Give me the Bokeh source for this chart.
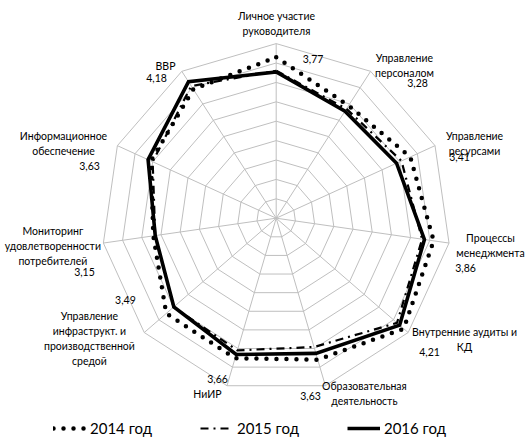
import numpy as np
from bokeh.plotting import figure
from bokeh.models import Range1d, Legend, LegendItem
from bokeh.embed import file_html
from bokeh.resources import INLINE
from bokeh.core.properties import value

# ---------------- data ----------------
categories = [
    "Личное участие\nруководителя",
    "Управление\nперсоналом",
    "Управление\nресурсами",
    "Процессы\nменеджмента",
    "Внутренние аудиты и\nКД",
    "Образовательная\nдеятельность",
    "НиИР",
    "Управление\nинфраструкт. и\nпроизводственной\nсредой",
    "Мониторинг\nудовлетворенности\nпотребителей",
    "Информационное\nобеспечение",
    "ВВР",
]
values_2014 = [4.15, 3.45, 3.80, 4.10, 4.35, 3.80, 3.76, 3.75, 3.20, 3.55, 3.95]
values_2015 = [3.80, 3.35, 3.55, 3.80, 4.12, 3.46, 3.55, 3.50, 3.15, 3.50, 4.05]
values_2016 = [3.77, 3.28, 3.41, 3.86, 4.21, 3.63, 3.66, 3.49, 3.15, 3.63, 4.18]
value_labels = ["3,77", "3,28", "3,41", "3,86", "4,21", "3,63", "3,66", "3,49", "3,15", "3,63", "4,18"]
series_names = ["2014 год", "2015 год", "2016 год"]
ring_values = [0.5, 1.0, 1.5, 2.0, 2.5, 3.0, 3.5, 4.0, 4.5]
axis_max = 4.5

# ---------------- layout / style ----------------
W, H = 532, 439
SCALE = 38.8            # px per value unit
CX, CY = 275.7, 217.7   # centre of the web in figure pixels

# label placement: pixel offsets from the outer end of each spoke (x right, y down)
cat_offsets = [(0.3, -20.6), (33.9, -5.8), (39.5, -1.7), (41.5, 2.5), (56.4, 6.5),
               (39.0, 7.3), (-19.5, 7.8), (-54.8, 5.5), (-50.5, 2.5), (-53.9, -1.7), (-16.3, -5.8)]
val_offsets = [(36.8, 14.9), (46.9, 11.2), (24.5, 11.8), (16.5, 24.5), (21.4, 19.0),
               (-14.9, 9.8), (-9.5, -7.2), (-18.8, -33.0), (-18.9, 29.2), (-27.9, 20.5), (-25.3, 6.5)]

FONT = "Lato"
GRID = "#BFBFBF"
TXT = "#000000"

n = len(categories)
ang = np.arange(n) * 2 * np.pi / n   # clockwise from top
sx, sy = np.sin(ang), np.cos(ang)

p = figure(width=W, height=H, output_backend="svg", toolbar_location=None,
           x_range=Range1d(-CX / SCALE, (W - CX) / SCALE),
           y_range=Range1d(-(H - CY) / SCALE, CY / SCALE),
           min_border=0, outline_line_color=None)
p.axis.visible = False
p.grid.visible = False
p.min_border_left = p.min_border_right = p.min_border_top = p.min_border_bottom = 0

# rings
ring_xs = [list(np.append(r * sx, r * sx[0])) for r in ring_values]
ring_ys = [list(np.append(r * sy, r * sy[0])) for r in ring_values]
p.multi_line(ring_xs, ring_ys, line_color=GRID, line_width=1)
# spokes
p.segment(x0=np.zeros(n), y0=np.zeros(n), x1=axis_max * sx, y1=axis_max * sy,
          line_color=GRID, line_width=1)

def closed(vals):
    v = np.array(vals)
    xs = np.append(v * sx, v[0] * sx[0])
    ys = np.append(v * sy, v[0] * sy[0])
    return xs, ys

x14, y14 = closed(values_2014)
x15, y15 = closed(values_2015)
x16, y16 = closed(values_2016)
r14 = p.line(x14, y14, line_color="black", line_width=4.5, line_dash="0 10", line_cap="round")
r15 = p.line(x15, y15, line_color="black", line_width=2.2, line_dash="8 5 2 5")
r16 = p.line(x16, y16, line_color="black", line_width=3.6, line_join="miter")

# labels
ex, ey = axis_max * sx, axis_max * sy
cat_x = [ex[i] + cat_offsets[i][0] / SCALE for i in range(n)]
cat_y = [ey[i] - cat_offsets[i][1] / SCALE for i in range(n)]
val_x = [ex[i] + val_offsets[i][0] / SCALE for i in range(n)]
val_y = [ey[i] - val_offsets[i][1] / SCALE for i in range(n)]

p.text(x=cat_x, y=cat_y, text=categories, text_font=value(FONT), text_font_size="10.5px",
       text_align="center", text_baseline="middle", text_color=TXT, text_line_height=1.25)
p.text(x=val_x, y=val_y, text=value_labels, text_font=value(FONT), text_font_size="10.5px",
       text_align="center", text_baseline="middle", text_color=TXT)

legend = Legend(items=[LegendItem(label=series_names[0], renderers=[r14]),
                       LegendItem(label=series_names[1], renderers=[r15]),
                       LegendItem(label=series_names[2], renderers=[r16])],
                orientation="horizontal", location=(53, 2),
                glyph_width=33, glyph_height=18, label_height=18, label_standoff=4,
                spacing=48, padding=0, margin=0, border_line_color=None,
                background_fill_alpha=0, label_text_font=FONT, label_text_font_size="15px",
                label_text_color=TXT)
p.add_layout(legend)

open("out.html", "w").write(file_html(p, INLINE))
